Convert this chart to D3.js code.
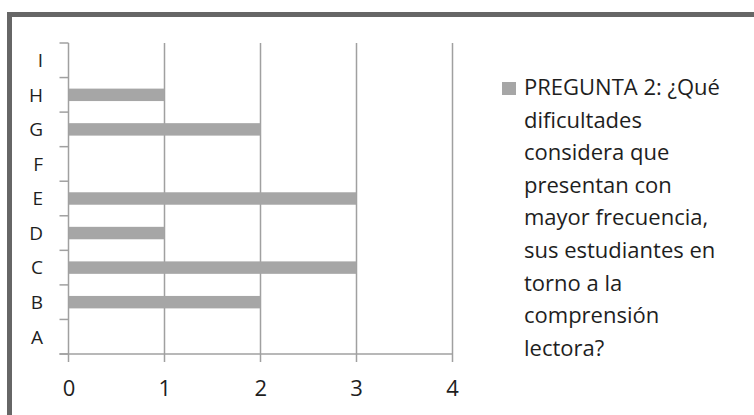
<!DOCTYPE html>
<html>
<head>
<meta charset="utf-8">
<script src="https://cdnjs.cloudflare.com/ajax/libs/d3/7.8.5/d3.min.js"></script>
<style>
  html, body { margin: 0; padding: 0; background: #fff; }
  svg { display: block; }
</style>
</head>
<body>
<svg id="chart" width="754" height="415"></svg>
<script>
// Answer categories (bottom to top) and number of responses for each
const categories = ["A", "B", "C", "D", "E", "F", "G", "H", "I"];
const responses = [0, 2, 3, 1, 3, 0, 2, 1, 0];
const xTicks = [0, 1, 2, 3, 4];
const legendLines = [
  "PREGUNTA 2: ¿Qué",
  "dificultades",
  "considera que",
  "presentan con",
  "mayor frecuencia,",
  "sus estudiantes en",
  "torno a la",
  "comprensión",
  "lectora?"
];

const svg = d3.select("#chart");
const font = "'Open Sans', Lato, sans-serif";
const lineColor = "#a0a0a0";
const barColor = "#a6a6a6";
const textColor = "#1e1e1e";

// chart frame
svg.append("rect")
  .attr("x", 9.5).attr("y", 14.5)
  .attr("width", 900).attr("height", 500)
  .attr("fill", "#fff")
  .attr("stroke", "#666").attr("stroke-width", 5);

const plot = { left: 68.5, right: 452, top: 43, bottom: 354 };

const x = d3.scaleLinear().domain([0, 4]).range([plot.left, plot.right]);
const y = d3.scaleBand()
  .domain(categories.slice().reverse())
  .range([plot.top, plot.bottom])
  .paddingInner(0.64).paddingOuter(0.32);
const yBand = d3.scaleBand()
  .domain(categories.slice().reverse())
  .range([plot.top, plot.bottom]);

const g = svg.append("g");

// vertical gridlines with tick marks below the axis
g.selectAll("line.grid")
  .data(xTicks.slice(1))
  .join("line")
  .attr("class", "grid")
  .attr("x1", d => Math.round(x(d)) + 0.5).attr("x2", d => Math.round(x(d)) + 0.5)
  .attr("y1", plot.top).attr("y2", plot.bottom + 8)
  .attr("stroke", lineColor).attr("stroke-width", 1.5);

// bars
g.selectAll("rect.bar")
  .data(categories.map((c, i) => ({ c, v: responses[i] })).filter(d => d.v > 0))
  .join("rect")
  .attr("class", "bar")
  .attr("x", x(0))
  .attr("y", d => y(d.c))
  .attr("width", d => x(d.v) - x(0))
  .attr("height", y.bandwidth())
  .attr("fill", barColor);

// category axis
const yAxis = d3.axisLeft(yBand).tickSize(0).tickFormat("");
const ya = g.append("g").attr("transform", `translate(${plot.left},0)`).call(yAxis);
ya.select(".domain").remove();
g.append("line")
  .attr("x1", plot.left).attr("x2", plot.left)
  .attr("y1", plot.top).attr("y2", plot.bottom + 8)
  .attr("stroke", lineColor).attr("stroke-width", 1.5);
// boundary ticks between categories
const bounds = d3.range(categories.length + 1).map(i => plot.top + i * yBand.step());
g.selectAll("line.ytick")
  .data(bounds)
  .join("line")
  .attr("class", "ytick")
  .attr("x1", plot.left - 9).attr("x2", plot.left)
  .attr("y1", d => d).attr("y2", d => d)
  .attr("stroke", lineColor).attr("stroke-width", 1.5);
// value axis line
g.append("line")
  .attr("x1", plot.left - 9).attr("x2", plot.right)
  .attr("y1", plot.bottom).attr("y2", plot.bottom)
  .attr("stroke", lineColor).attr("stroke-width", 1.5);

// category labels
g.selectAll("text.ylab")
  .data(categories)
  .join("text")
  .attr("class", "ylab")
  .attr("x", 43)
  .attr("y", d => yBand(d) + yBand.bandwidth() / 2)
  .attr("dy", "0.36em")
  .attr("text-anchor", "end")
  .attr("font-family", font).attr("font-size", 19)
  .attr("fill", textColor)
  .text(d => d);

// value labels
const xAxis = d3.axisBottom(x).tickValues(xTicks).tickSize(0).tickPadding(0).tickFormat(d3.format("d"));
const xa = g.append("g").attr("transform", `translate(0,${plot.bottom})`).call(xAxis);
xa.select(".domain").remove();
xa.selectAll("text")
  .attr("y", 42)
  .attr("dy", 0)
  .attr("font-family", font).attr("font-size", 22)
  .attr("fill", textColor);

// legend
const legend = svg.append("g");
legend.append("rect")
  .attr("x", 502).attr("y", 82).attr("width", 14).attr("height", 13)
  .attr("fill", barColor);
legend.selectAll("text")
  .data(legendLines)
  .join("text")
  .attr("x", 524)
  .attr("y", (d, i) => 95 + i * 32.6)
  .attr("font-family", font).attr("font-size", 22)
  .attr("fill", textColor)
  .text(d => d);
</script>
</body>
</html>
